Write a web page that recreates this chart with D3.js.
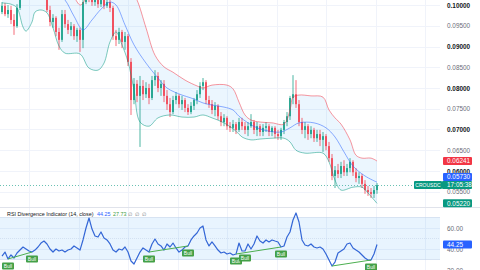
<!DOCTYPE html>
<meta charset="utf-8">
<style>
    body { margin: 0; background: #fff; }
    svg { display: block; font-family: "Liberation Sans", Arial, sans-serif; }
</style>
<svg width="480" height="270"></svg>
<script src="https://cdn.jsdelivr.net/npm/d3@7/dist/d3.min.js"></script>
<script>
    // candles: [open, high, low, close]
    var candles = [
        [0.0983,0.1007,0.0978,0.0998],[0.0998,0.1005,0.0973,0.0978],[0.0978,0.1000,0.0969,0.0988],[0.0988,0.0998,0.0954,0.0964],
        [0.0964,0.0978,0.0928,0.0949],[0.0949,0.1002,0.0945,0.0993],[0.0993,0.1036,0.0988,0.1024],[0.1024,0.1055,0.1017,0.1041],
        [0.1041,0.1051,0.1022,0.1031],[0.1031,0.1065,0.1026,0.1055],[0.1055,0.1070,0.1036,0.1046],[0.1046,0.1075,0.1041,0.1060],
        [0.1060,0.1065,0.1031,0.1036],[0.1036,0.1060,0.1026,0.1051],[0.1051,0.1055,0.1019,0.1026],[0.1022,0.1026,0.0983,0.0988],
        [0.0988,0.0998,0.0949,0.0959],[0.0959,0.0978,0.0945,0.0969],[0.0969,0.0973,0.0925,0.0935],[0.0935,0.0945,0.0892,0.0916],
        [0.0916,0.0988,0.0911,0.0978],[0.0978,0.0988,0.0945,0.0954],[0.0954,0.0964,0.0930,0.0940],[0.0940,0.0959,0.0925,0.0949],
        [0.0949,0.0954,0.0916,0.0925],[0.0925,0.0945,0.0911,0.0940],[0.0940,0.0945,0.0887,0.0916],[0.0916,0.1022,0.0896,0.1007],
        [0.1007,0.1046,0.1002,0.1031],[0.1031,0.1041,0.1007,0.1022],[0.1022,0.1036,0.0998,0.1007],[0.1007,0.1026,0.0998,0.1017],
        [0.1017,0.1026,0.0993,0.1002],[0.1002,0.1022,0.0995,0.1012],[0.1012,0.1022,0.0990,0.0998],[0.0998,0.1017,0.0993,0.1007],
        [0.1007,0.1017,0.0983,0.0993],[0.0993,0.0998,0.0916,0.0925],[0.0925,0.0940,0.0901,0.0916],[0.0916,0.0945,0.0906,0.0935],
        [0.0935,0.0940,0.0896,0.0911],[0.0911,0.0935,0.0892,0.0925],[0.0925,0.0930,0.0853,0.0863],[0.0863,0.0872,0.0735,0.0771],
        [0.0771,0.0824,0.0761,0.0810],[0.0810,0.0819,0.0766,0.0781],[0.0781,0.0829,0.0658,0.0805],[0.0805,0.0819,0.0771,0.0785],
        [0.0785,0.0814,0.0776,0.0800],[0.0800,0.0810,0.0761,0.0776],[0.0776,0.0829,0.0771,0.0819],[0.0819,0.0843,0.0805,0.0829],
        [0.0829,0.0838,0.0790,0.0800],[0.0800,0.0819,0.0781,0.0810],[0.0810,0.0819,0.0766,0.0781],[0.0781,0.0795,0.0747,0.0761],
        [0.0761,0.0776,0.0730,0.0742],[0.0742,0.0781,0.0737,0.0771],[0.0771,0.0790,0.0761,0.0781],[0.0781,0.0785,0.0752,0.0761],
        [0.0761,0.0781,0.0747,0.0771],[0.0771,0.0776,0.0742,0.0752],[0.0752,0.0761,0.0735,0.0742],[0.0742,0.0766,0.0737,0.0757],
        [0.0757,0.0776,0.0747,0.0771],[0.0771,0.0795,0.0761,0.0785],[0.0785,0.0814,0.0776,0.0805],[0.0805,0.0824,0.0795,0.0814],
        [0.0814,0.0819,0.0761,0.0771],[0.0771,0.0781,0.0752,0.0761],[0.0761,0.0771,0.0737,0.0747],[0.0747,0.0766,0.0732,0.0757],
        [0.0757,0.0761,0.0723,0.0732],[0.0732,0.0742,0.0708,0.0718],[0.0718,0.0737,0.0708,0.0728],[0.0728,0.0732,0.0699,0.0708],
        [0.0708,0.0718,0.0694,0.0704],[0.0704,0.0723,0.0694,0.0713],[0.0713,0.0718,0.0689,0.0699],[0.0699,0.0728,0.0694,0.0718],
        [0.0718,0.0728,0.0699,0.0708],[0.0708,0.0718,0.0689,0.0699],[0.0699,0.0718,0.0684,0.0708],[0.0708,0.0737,0.0704,0.0718],
        [0.0718,0.0723,0.0689,0.0699],[0.0699,0.0718,0.0684,0.0708],[0.0708,0.0713,0.0684,0.0694],[0.0694,0.0713,0.0684,0.0704],
        [0.0704,0.0718,0.0694,0.0708],[0.0708,0.0713,0.0684,0.0694],[0.0694,0.0708,0.0684,0.0704],[0.0704,0.0708,0.0679,0.0689],
        [0.0689,0.0699,0.0675,0.0684],[0.0684,0.0704,0.0675,0.0699],[0.0699,0.0723,0.0689,0.0718],[0.0718,0.0742,0.0708,0.0732],
        [0.0732,0.0781,0.0723,0.0776],[0.0776,0.0831,0.0761,0.0785],[0.0785,0.0819,0.0752,0.0761],[0.0761,0.0771,0.0708,0.0718],
        [0.0718,0.0728,0.0689,0.0699],[0.0699,0.0718,0.0679,0.0708],[0.0708,0.0713,0.0675,0.0689],[0.0689,0.0708,0.0679,0.0699],
        [0.0699,0.0704,0.0670,0.0679],[0.0679,0.0699,0.0670,0.0689],[0.0689,0.0699,0.0660,0.0675],[0.0675,0.0694,0.0646,0.0684],
        [0.0684,0.0689,0.0650,0.0660],[0.0660,0.0670,0.0622,0.0631],[0.0631,0.0641,0.0578,0.0588],[0.0588,0.0612,0.0559,0.0602],
        [0.0602,0.0617,0.0583,0.0593],[0.0593,0.0622,0.0583,0.0612],[0.0612,0.0626,0.0588,0.0597],[0.0597,0.0617,0.0588,0.0607],
        [0.0607,0.0631,0.0597,0.0622],[0.0622,0.0626,0.0588,0.0597],[0.0597,0.0607,0.0573,0.0583],[0.0583,0.0597,0.0569,0.0588],
        [0.0588,0.0593,0.0559,0.0569],[0.0569,0.0578,0.0545,0.0554],[0.0554,0.0564,0.0540,0.0549],[0.0549,0.0559,0.0535,0.0545],
        [0.0545,0.0564,0.0535,0.0554],[0.0554,0.0571,0.0545,0.0566]
    ];

    // bollinger bands, read at candle indexes
    var upperIdx = [0,12,21,24,26,27,29,33,40,43,45,48,51,54,57,61,65,67,70,75,77,79,81,83,86,90,94,96,97,99,103,107,109,111,113,116,118,120,123,125];
    var upperVal = [0.1108,0.1096,0.1048,0.1019,0.1000,0.1005,0.1036,0.1096,0.1084,0.1036,
        0.1012,0.0945,0.0879,0.0851,0.0838,0.0819,0.0805,0.0800,0.0807,0.0807,
        0.0798,0.0766,0.0735,0.0723,0.0718,0.0716,0.0713,0.0747,0.0778,0.0783,
        0.0781,0.0778,0.0747,0.0728,0.0713,0.0675,0.0638,0.0631,0.0631,0.06241];
    var middleIdx = [0,9,18,21,24,27,30,33,36,38,41,44,48,52,55,60,63,67,70,74,77,79,82,85,89,93,96,99,104,108,111,114,117,121,125];
    var middleVal = [0.1065,0.1055,0.1031,0.1012,0.0973,0.0940,0.0964,0.0990,0.1007,0.1000,
        0.0952,0.0904,0.0860,0.0824,0.0800,0.0783,0.0776,0.0764,0.0759,0.0754,
        0.0747,0.0732,0.0716,0.0704,0.0696,0.0694,0.0704,0.0716,0.0716,0.0704,
        0.0682,0.0646,0.0612,0.0588,0.0573];
    var lowerIdx = [0,3,5,7,8,10,11,13,15,17,19,21,26,29,32,34,36,38,40,42,44,46,49,52,56,60,64,67,70,74,78,80,83,86,90,94,96,98,101,107,109,111,113,117,120,122,125];
    var lowerVal = [0.1005,0.1002,0.0993,0.0947,0.0937,0.0959,0.0983,0.0988,0.0981,0.0945,
        0.0901,0.0884,0.0882,0.0848,0.0843,0.0860,0.0911,0.0935,0.0904,0.0863,
        0.0795,0.0718,0.0708,0.0728,0.0735,0.0730,0.0730,0.0735,0.0728,0.0716,
        0.0696,0.0682,0.0675,0.0677,0.0679,0.0679,0.0670,0.0650,0.0643,0.0643,
        0.0622,0.0578,0.0554,0.0561,0.0561,0.0547,0.0522];

    var rsi = [
        33.3,37.1,30.5,34.3,31.4,36.2,39.0,41.9,40.0,38.1,
        37.1,39.0,41.9,45.7,47.6,44.8,40.0,37.1,40.0,38.1,
        39.0,37.1,39.0,40.0,42.9,41.0,39.0,48.6,60.0,69.5,
        59.0,52.4,51.4,56.2,50.5,48.6,44.8,39.0,37.1,40.0,
        39.0,41.9,37.1,28.6,25.7,31.4,37.1,41.0,39.0,37.1,
        44.8,49.5,44.8,42.9,39.0,44.8,41.9,45.7,41.0,37.1,
        39.0,41.9,42.9,48.6,52.4,55.2,60.0,61.9,48.6,42.9,
        46.7,42.9,39.0,36.2,37.1,35.2,36.2,34.3,35.2,45.7,
        38.1,38.1,44.8,40.0,44.8,52.4,47.6,45.7,48.6,46.7,
        48.6,47.6,46.7,41.9,42.9,51.4,56.2,67.6,74.3,65.7,
        48.6,43.8,42.9,44.8,41.9,41.0,41.9,40.0,35.2,29.5,
        23.8,27.6,36.2,38.1,40.0,44.8,45.7,41.0,39.0,37.1,
        34.3,31.4,29.5,29.5,35.2,44.25
    ];
    // bullish divergences: pivot index pairs, and label positions
    var divergences = [[2, 10], [49, 62], [78, 93], [110, 123]];
    var bullIdx = [2, 10, 49, 62, 78, 81, 93, 123];

    var priceTicks = [0.1, 0.095, 0.09, 0.085, 0.08, 0.075, 0.07, 0.065, 0.06, 0.055];
    var rsiTicks = [60, 40, 20];
    var rsiBands = [70, 50, 30];
    var timeTicks = [9, 25.5, 42, 58.5, 75, 91.5, 108, 124.5, 141];
    var lastUpper = 0.06241, lastMiddle = 0.05730, lastLower = 0.05220;
    var symbol = 'CROUSDC', countdown = '17:05:38';
    var rsiTitle = 'RSI Divergence Indicator (14, close)';
    var rsiValues = ['44.25', '27.73'];

    var svg = d3.select('svg');
    var paneW = 440, mainH = 207, rsiTop = 208, H = 270;

    var x = d3.scaleLinear().domain([0, 125]).range([2, 377]);
    var y = d3.scaleLinear().domain([0.1, 0.06]).range([5, 171]);
    var yr = d3.scaleLinear().domain([70, 30]).range([217.5, 259.5]);

    var up = '#089981', down = '#f23645';

    var defs = svg.append('defs');
    defs.append('clipPath').attr('id', 'clipMain')
        .append('rect').attr('x', 0).attr('y', 0).attr('width', paneW).attr('height', mainH);
    defs.append('clipPath').attr('id', 'clipRsi')
        .append('rect').attr('x', 0).attr('y', rsiTop).attr('width', paneW).attr('height', H - rsiTop);

    // grid
    var grid = svg.append('g').attr('stroke', '#f0f3fa').attr('stroke-width', 1);
    grid.selectAll('.hg').data(priceTicks).enter().append('line')
        .attr('x1', 0).attr('x2', paneW)
        .attr('y1', function (d) { return Math.round(y(d)) + 0.5; })
        .attr('y2', function (d) { return Math.round(y(d)) + 0.5; });
    grid.selectAll('.vg').data(timeTicks).enter().append('line')
        .attr('x1', function (d) { return Math.round(x(d)) + 0.5; })
        .attr('x2', function (d) { return Math.round(x(d)) + 0.5; })
        .attr('y1', 0).attr('y2', H);
    grid.selectAll('.rg').data(rsiTicks).enter().append('line')
        .attr('x1', 0).attr('x2', paneW)
        .attr('y1', function (d) { return Math.round(yr(d)) + 0.5; })
        .attr('y2', function (d) { return Math.round(yr(d)) + 0.5; });

    // main pane
    var main = svg.append('g').attr('clip-path', 'url(#clipMain)');
    var bandLine = d3.line()
        .x(function (d) { return x(d[0]); })
        .y(function (d) { return y(d[1]); })
        .curve(d3.curveCatmullRom);
    var upperPts = upperIdx.map(function (k, j) { return [k, upperVal[j]]; });
    var middlePts = middleIdx.map(function (k, j) { return [k, middleVal[j]]; });
    var lowerPts = lowerIdx.map(function (k, j) { return [k, lowerVal[j]]; });

    main.append('path')
        .attr('d', bandLine(upperPts) + 'L' + bandLine(lowerPts.slice().reverse()).slice(1) + 'Z')
        .attr('fill', 'rgba(33,150,243,0.09)');

    var cg = main.selectAll('.candle').data(candles).enter().append('g')
        .attr('opacity', 0.9);
    cg.append('line')
        .attr('x1', function (d, i) { return Math.round(x(i)); })
        .attr('x2', function (d, i) { return Math.round(x(i)); })
        .attr('y1', function (d) { return y(d[1]); })
        .attr('y2', function (d) { return y(d[2]); })
        .attr('stroke', function (d) { return d[3] >= d[0] ? up : down; })
        .attr('stroke-width', 0.8);
    cg.append('rect')
        .attr('x', function (d, i) { return Math.round(x(i)) - 0.9; })
        .attr('width', 1.8)
        .attr('y', function (d) { return y(Math.max(d[0], d[3])); })
        .attr('height', function (d) { return Math.max(1, Math.abs(y(d[0]) - y(d[3]))); })
        .attr('fill', function (d) { return d[3] >= d[0] ? up : down; });

    [[upperPts, '#f23645'], [middlePts, '#2962ff'], [lowerPts, '#089981']].forEach(function (b) {
        main.append('path').attr('d', bandLine(b[0]))
            .attr('fill', 'none').attr('stroke', b[1]).attr('stroke-width', 0.7).attr('opacity', 0.75);
    });

    var lastClose = candles[candles.length - 1][3];
    svg.append('line')
        .attr('x1', 0).attr('x2', 414)
        .attr('y1', Math.round(y(lastClose)) + 0.5).attr('y2', Math.round(y(lastClose)) + 0.5)
        .attr('stroke', up).attr('stroke-dasharray', '1,2').attr('opacity', 0.6);

    // pane separator
    svg.append('line').attr('x1', 0).attr('x2', 480).attr('y1', rsiTop - 0.5).attr('y2', rsiTop - 0.5)
        .attr('stroke', '#e0e3eb');

    // rsi pane
    var rp = svg.append('g').attr('clip-path', 'url(#clipRsi)');
    rp.append('rect').attr('x', 0).attr('width', paneW)
        .attr('y', yr(70)).attr('height', yr(30) - yr(70))
        .attr('fill', 'rgba(33,150,243,0.1)');
    rp.selectAll('.band').data(rsiBands).enter().append('line')
        .attr('x1', 0).attr('x2', paneW)
        .attr('y1', function (d) { return yr(d); }).attr('y2', function (d) { return yr(d); })
        .attr('stroke', '#c5d3ea').attr('stroke-width', 0.6)
        .attr('stroke-dasharray', function (d) { return d === 50 ? '1,1' : null; });

    rp.append('path')
        .datum(rsi)
        .attr('d', d3.line().x(function (d, i) { return x(i); }).y(function (d) { return yr(d); }))
        .attr('fill', 'none').attr('stroke', '#3366d6').attr('stroke-width', 1.2)
        .attr('stroke-linejoin', 'round');

    rp.selectAll('.div').data(divergences).enter().append('line')
        .attr('x1', function (d) { return x(d[0]); })
        .attr('y1', function (d) { return yr(rsi[d[0]]); })
        .attr('x2', function (d) { return x(d[1]); })
        .attr('y2', function (d) { return yr(rsi[d[1]]); })
        .attr('stroke', '#4caf50').attr('stroke-width', 1);

    var bl = rp.selectAll('.bull').data(bullIdx).enter().append('g')
        .attr('transform', function (d) { return 'translate(' + x(d) + ',' + (yr(rsi[d]) + 7) + ')'; });
    bl.append('rect').attr('x', -6).attr('y', -3.5).attr('width', 12).attr('height', 7).attr('rx', 1)
        .attr('fill', '#43a047');
    bl.append('text').attr('text-anchor', 'middle').attr('y', 1.9)
        .attr('font-size', 5).attr('fill', '#fff').text('Bull');

    // rsi header
    var hd = svg.append('text').attr('x', 7).attr('y', 216.3).attr('font-size', 5.4).attr('fill', '#131722');
    hd.append('tspan').text(rsiTitle);
    hd.append('tspan').attr('x', 97).attr('fill', '#2962ff').text(rsiValues[0]);
    hd.append('tspan').attr('x', 113).attr('fill', '#43a047').text(rsiValues[1]);
    hd.append('tspan').attr('x', 128).attr('fill', '#787b86').text('\u2205');
    hd.append('tspan').attr('x', 135).attr('fill', '#787b86').text('\u2205');
    hd.append('tspan').attr('x', 142).attr('fill', '#787b86').text('\u2205');

    // price axis
    var pa = svg.append('g').attr('transform', 'translate(447,0)')
        .call(d3.axisRight(y).tickValues(priceTicks).tickFormat(d3.format('.5f')).tickSize(0).tickPadding(0));
    pa.select('.domain').remove();
    pa.selectAll('text')
        .attr('font-family', '"Liberation Sans", Arial, sans-serif')
        .attr('font-size', 6.4)
        .attr('fill', function (d) { return Math.abs(d * 100 - Math.round(d * 100)) < 1e-6 ? '#131722' : '#6a6d78'; })
        .attr('font-weight', function (d) { return Math.abs(d * 100 - Math.round(d * 100)) < 1e-6 ? 'bold' : 'normal'; });

    var ra = svg.append('g').attr('transform', 'translate(447,0)')
        .call(d3.axisRight(yr).tickValues(rsiTicks).tickFormat(d3.format('.2f')).tickSize(0).tickPadding(0));
    ra.select('.domain').remove();
    ra.selectAll('text').attr('font-family', '"Liberation Sans", Arial, sans-serif')
        .attr('font-size', 6.4).attr('fill', '#6a6d78');

    function tag(cy, txt, fill, x0, w, size, anchor) {
        var g = svg.append('g');
        g.append('rect').attr('x', x0).attr('y', cy - 4).attr('width', w).attr('height', 8).attr('rx', 1)
            .attr('fill', fill);
        g.append('text').attr('x', anchor === 'middle' ? x0 + w / 2 : 447).attr('y', cy + 2.3)
            .attr('text-anchor', anchor || 'start')
            .attr('font-size', size || 6.4).attr('fill', '#fff').text(txt);
    }
    var yClose = y(lastClose);
    tag(y(lastUpper), d3.format('.5f')(lastUpper), '#f23645', 443, 29);
    tag(Math.min(y(lastMiddle), yClose - 8), d3.format('.5f')(lastMiddle), '#2962ff', 443, 29);
    tag(yClose, symbol, up, 414, 28, 5, 'middle');
    tag(yClose, countdown, up, 442, 30);
    tag(y(lastLower), d3.format('.5f')(lastLower), up, 443, 29);
    tag(yr(rsi[rsi.length - 1]), d3.format('.2f')(rsi[rsi.length - 1]), '#2962ff', 443, 29);
</script>
